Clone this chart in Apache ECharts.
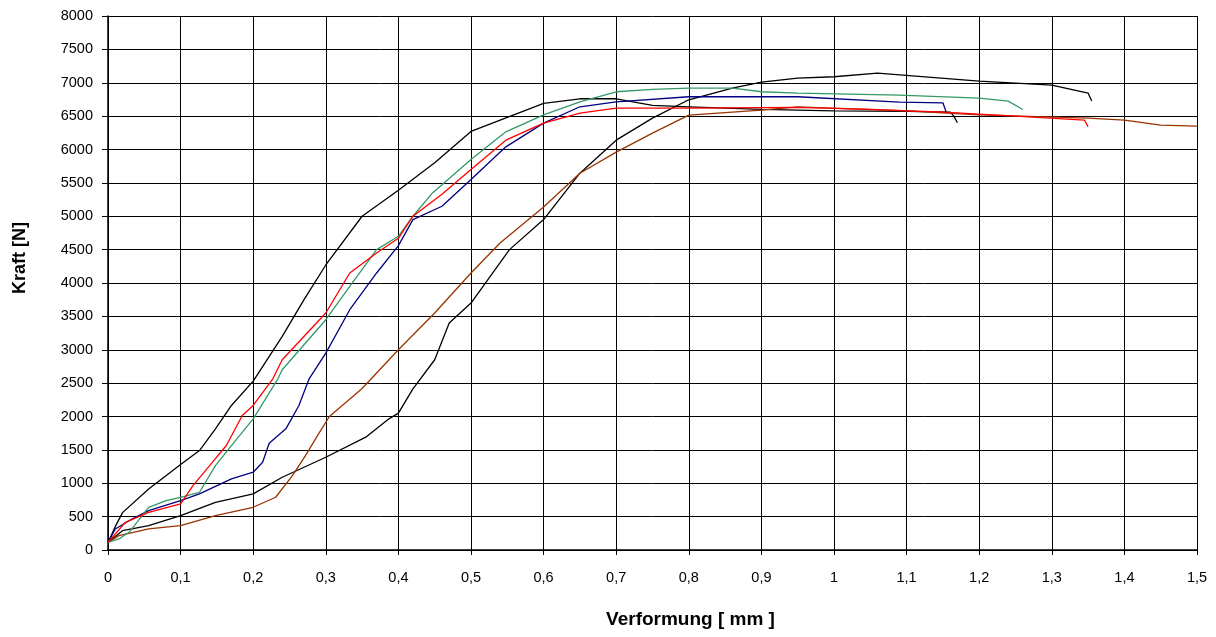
<!DOCTYPE html>
<html>
<head>
<meta charset="utf-8">
<script src="https://cdn.jsdelivr.net/npm/echarts@6/dist/echarts.min.js"></script>
<style>
html,body{margin:0;padding:0;background:#fff;}
#chart{width:1216px;height:637px;}
</style>
</head>
<body>
<div id="chart"></div>
<script>
var xTicks = [0,0.1,0.2,0.3,0.4,0.5,0.6,0.7,0.8,0.9,1,1.1,1.2,1.3,1.4,1.5];
var yTicks = [0,500,1000,1500,2000,2500,3000,3500,4000,4500,5000,5500,6000,6500,7000,7500,8000];

var black1 = [[0,110],[0.01,350],[0.02,560],[0.056,915],[0.1,1280],[0.126,1490],[0.148,1815],[0.17,2165],[0.2,2530],[0.24,3200],[0.27,3750],[0.3,4270],[0.35,5000],[0.4,5390],[0.45,5800],[0.5,6270],[0.55,6480],[0.6,6690],[0.65,6760],[0.7,6760],[0.75,6660],[0.8,6640],[0.9,6600],[1.0,6580],[1.1,6570],[1.16,6560],[1.165,6500],[1.17,6400]];
var red = [[0,115],[0.024,415],[0.056,565],[0.1,690],[0.117,965],[0.14,1265],[0.163,1565],[0.185,2015],[0.2,2165],[0.227,2565],[0.24,2850],[0.3,3550],[0.333,4150],[0.37,4450],[0.4,4670],[0.42,5000],[0.46,5330],[0.5,5700],[0.548,6140],[0.6,6395],[0.65,6545],[0.7,6620],[0.8,6620],[0.95,6630],[1.05,6600],[1.15,6560],[1.25,6500],[1.345,6440],[1.35,6340]];
var green = [[0,115],[0.015,165],[0.029,265],[0.056,640],[0.08,740],[0.1,790],[0.126,865],[0.148,1265],[0.17,1565],[0.2,1965],[0.234,2565],[0.24,2700],[0.3,3450],[0.333,3950],[0.37,4500],[0.4,4700],[0.42,5000],[0.447,5350],[0.5,5850],[0.548,6265],[0.6,6520],[0.65,6715],[0.7,6865],[0.75,6900],[0.8,6920],[0.86,6920],[0.9,6865],[0.95,6845],[1.09,6815],[1.2,6770],[1.24,6725],[1.26,6600]];
var blue = [[0,115],[0.01,315],[0.033,465],[0.056,590],[0.1,740],[0.126,840],[0.17,1065],[0.2,1165],[0.213,1315],[0.222,1600],[0.245,1815],[0.263,2165],[0.277,2565],[0.3,2950],[0.333,3600],[0.37,4150],[0.4,4560],[0.42,4950],[0.46,5150],[0.5,5550],[0.548,6040],[0.6,6395],[0.65,6640],[0.7,6715],[0.8,6790],[0.95,6790],[1.09,6710],[1.15,6700],[1.155,6545]];
var brown = [[0,115],[0.015,215],[0.056,315],[0.1,365],[0.148,515],[0.2,640],[0.231,790],[0.254,1115],[0.272,1415],[0.29,1740],[0.305,2000],[0.35,2420],[0.4,3000],[0.45,3550],[0.5,4150],[0.54,4600],[0.6,5140],[0.65,5645],[0.7,5960],[0.75,6245],[0.8,6515],[0.86,6560],[0.9,6590],[0.95,6640],[1.1,6580],[1.2,6520],[1.35,6470],[1.4,6440],[1.45,6365],[1.5,6350]];
var black2 = [[0,115],[0.02,290],[0.056,365],[0.1,515],[0.148,715],[0.2,840],[0.24,1090],[0.3,1390],[0.355,1690],[0.387,1965],[0.4,2050],[0.42,2415],[0.45,2850],[0.47,3400],[0.5,3700],[0.553,4500],[0.6,4950],[0.65,5645],[0.7,6140],[0.75,6470],[0.8,6745],[0.86,6920],[0.9,7010],[0.95,7070],[1.0,7090],[1.06,7145],[1.2,7025],[1.3,6965],[1.35,6845],[1.355,6725]];

var seriesDefs = [
  {name:'S1', data:black1, color:'#000000'},
  {name:'S2', data:black2, color:'#000000'},
  {name:'S3', data:brown, color:'#993300'},
  {name:'S4', data:blue, color:'#000080'},
  {name:'S5', data:green, color:'#339966'},
  {name:'S6', data:red, color:'#ff0000'}
];

var chart = echarts.init(document.getElementById('chart'), null, {renderer:'canvas'});
var font = 'Liberation Sans, Arial, sans-serif';
chart.setOption({
  animation:false,
  backgroundColor:'#ffffff',
  grid:{left:108, right:19, top:16, bottom:87, containLabel:false},
  xAxis:{
    type:'value', min:0, max:1.5, interval:0.1,
    name:'Verformung [ mm ]', nameLocation:'middle', nameGap:60,
    nameTextStyle:{fontFamily:font, fontSize:19, fontWeight:'bold', color:'#000', padding:[0,0,0,76]},
    axisLine:{show:true, onZero:false, lineStyle:{color:'#000', width:1.5}},
    axisTick:{show:true, length:5, lineStyle:{color:'#000'}},
    axisLabel:{fontFamily:font, fontSize:14.5, color:'#000', margin:20,
      formatter:function(v){ var i = Math.round(v*10); var t = xTicks[i]; return String(t).replace('.', ','); }},
    splitLine:{show:true, lineStyle:{color:'#000', width:1}}
  },
  yAxis:{
    type:'value', min:0, max:8000, interval:500,
    name:'Kraft [N]', nameLocation:'middle', nameGap:79,
    nameTextStyle:{fontFamily:font, fontSize:18, fontWeight:'bold', color:'#000', padding:[0,0,0,50]},
    axisLine:{show:true, lineStyle:{color:'#000', width:1.5}},
    axisTick:{show:true, length:6, lineStyle:{color:'#000'}},
    axisLabel:{fontFamily:font, fontSize:14.5, color:'#000', margin:15,
      formatter:function(v){ return String(yTicks[Math.round(v/500)]); }},
    splitLine:{show:true, lineStyle:{color:'#000', width:1}}
  },
  series: seriesDefs.map(function(s){
    return {name:s.name, type:'line', data:s.data, showSymbol:false, symbol:'none',
      lineStyle:{color:s.color, width:1.3}, itemStyle:{color:s.color}, smooth:false};
  })
});
</script>
</body>
</html>
